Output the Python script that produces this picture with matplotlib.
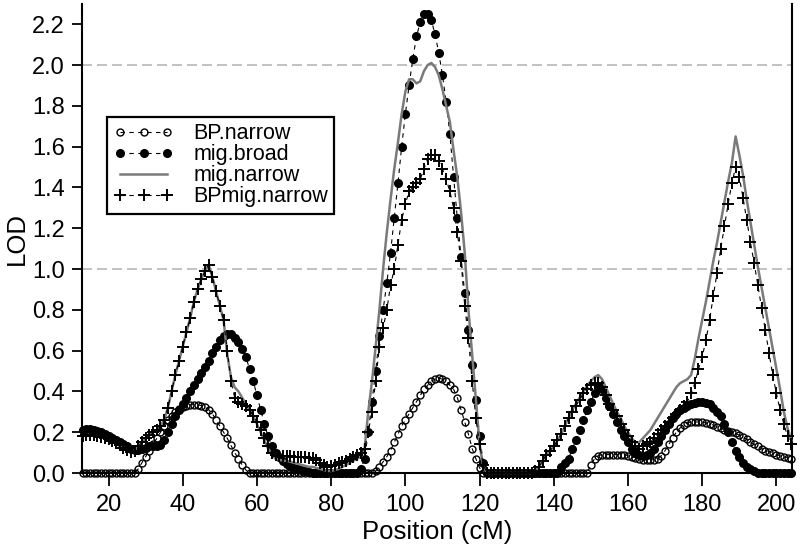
import numpy as np
import matplotlib
matplotlib.use("Agg")
import matplotlib.pyplot as plt

plt.rcParams['font.family'] = ['Liberation Sans', 'DejaVu Sans']

# map positions, 1 cM apart
position = np.arange(13, 205)

# LOD scores, 10 per row starting at 13 cM
bp_narrow = [
    0, 0, 0, 0, 0, 0, 0, 0, 0, 0,
    0, 0, 0, 0, 0, 0.02, 0.05, 0.08, 0.11, 0.14,
    0.17, 0.20, 0.23, 0.26, 0.28, 0.30, 0.315, 0.325, 0.33, 0.335,
    0.335, 0.335, 0.33, 0.325, 0.31, 0.29, 0.26, 0.23, 0.20, 0.17,
    0.135, 0.10, 0.07, 0.04, 0.015, 0, 0, 0, 0, 0,
    0, 0, 0, 0, 0, 0, 0, 0, 0, 0,
    0, 0, 0, 0, 0, 0, 0, 0, 0, 0,
    0, 0, 0, 0, 0, 0, 0, 0, 0, 0.01,
    0.03, 0.055, 0.08, 0.11, 0.15, 0.19, 0.23, 0.26, 0.29, 0.32,
    0.35, 0.38, 0.41, 0.43, 0.45, 0.46, 0.465, 0.46, 0.45, 0.43,
    0.41, 0.37, 0.31, 0.25, 0.19, 0.12, 0.07, 0.025, 0, 0,
    0, 0, 0, 0, 0, 0, 0, 0, 0, 0,
    0, 0, 0, 0, 0, 0, 0, 0, 0, 0,
    0, 0, 0, 0, 0, 0, 0, 0.04, 0.07, 0.085,
    0.09, 0.09, 0.09, 0.09, 0.09, 0.09, 0.09, 0.085, 0.08, 0.075,
    0.07, 0.065, 0.065, 0.065, 0.065, 0.07, 0.085, 0.11, 0.14, 0.17,
    0.20, 0.22, 0.235, 0.245, 0.25, 0.25, 0.25, 0.25, 0.245, 0.24,
    0.235, 0.225, 0.22, 0.21, 0.205, 0.20, 0.195, 0.185, 0.175, 0.165,
    0.15, 0.14, 0.13, 0.12, 0.11, 0.105, 0.10, 0.09, 0.085, 0.08,
    0.075, 0.07,
]

mig_broad = [
    0.21, 0.215, 0.215, 0.21, 0.205, 0.20, 0.19, 0.18, 0.17, 0.16,
    0.15, 0.14, 0.13, 0.12, 0.115, 0.115, 0.12, 0.125, 0.13, 0.13,
    0.13, 0.135, 0.16, 0.20, 0.24, 0.28, 0.31, 0.34, 0.37, 0.40,
    0.43, 0.46, 0.49, 0.52, 0.55, 0.59, 0.62, 0.65, 0.67, 0.68,
    0.68, 0.66, 0.64, 0.61, 0.57, 0.51, 0.45, 0.38, 0.31, 0.24,
    0.18, 0.13, 0.10, 0.08, 0.06, 0.045, 0.035, 0.025, 0.02, 0.015,
    0.01, 0.005, 0, 0, 0, 0, 0, 0, 0, 0,
    0, 0, 0, 0, 0, 0.02, 0.07, 0.20, 0.35, 0.50,
    0.67, 0.80, 0.93, 1.08, 1.25, 1.42, 1.60, 1.76, 1.90, 2.03,
    2.14, 2.21, 2.25, 2.25, 2.22, 2.15, 2.06, 1.95, 1.82, 1.66,
    1.45, 1.25, 1.06, 0.88, 0.70, 0.53, 0.36, 0.18, 0.05, 0,
    0, 0, 0, 0, 0, 0, 0, 0, 0, 0,
    0, 0, 0, 0, 0, 0, 0, 0, 0, 0.03,
    0.05, 0.07, 0.12, 0.16, 0.21, 0.26, 0.31, 0.35, 0.39, 0.42,
    0.41, 0.37, 0.33, 0.29, 0.25, 0.21, 0.18, 0.15, 0.12, 0.10,
    0.09, 0.085, 0.09, 0.10, 0.12, 0.15, 0.18, 0.21, 0.24, 0.27,
    0.29, 0.31, 0.32, 0.33, 0.34, 0.345, 0.35, 0.35, 0.345, 0.34,
    0.32, 0.30, 0.28, 0.24, 0.20, 0.15, 0.11, 0.08, 0.05, 0.03,
    0.02, 0.01, 0, 0, 0, 0, 0, 0, 0, 0,
    0, 0,
]

mig_narrow = [
    0.18, 0.185, 0.185, 0.185, 0.18, 0.175, 0.17, 0.165, 0.155, 0.145,
    0.135, 0.125, 0.115, 0.105, 0.11, 0.13, 0.15, 0.17, 0.185, 0.20,
    0.21, 0.23, 0.26, 0.32, 0.40, 0.48, 0.55, 0.62, 0.69, 0.76,
    0.84, 0.90, 0.95, 0.99, 1.02, 0.96, 0.89, 0.82, 0.75, 0.58,
    0.47, 0.42, 0.40, 0.37, 0.34, 0.31, 0.28, 0.24, 0.20, 0.16,
    0.12, 0.09, 0.07, 0.065, 0.06, 0.06, 0.055, 0.05, 0.045, 0.04,
    0.035, 0.03, 0.03, 0.025, 0.02, 0.015, 0.01, 0.01, 0.015, 0.02,
    0.03, 0.04, 0.05, 0.06, 0.07, 0.08, 0.12, 0.30, 0.45, 0.62,
    0.80, 1.00, 1.18, 1.34, 1.49, 1.62, 1.76, 1.87, 1.93, 1.93,
    1.91, 1.92, 1.97, 2.00, 2.01, 1.99, 1.95, 1.88, 1.80, 1.72,
    1.58, 1.45, 1.28, 1.08, 0.80, 0.58, 0.36, 0.14, 0.03, 0,
    0, 0, 0, 0, 0, 0, 0, 0, 0, 0,
    0, 0, 0.01, 0.03, 0.06, 0.09, 0.11, 0.13, 0.16, 0.19,
    0.23, 0.27, 0.31, 0.34, 0.37, 0.40, 0.43, 0.45, 0.47, 0.48,
    0.46, 0.42, 0.38, 0.34, 0.30, 0.27, 0.23, 0.20, 0.17, 0.15,
    0.15, 0.17, 0.19, 0.21, 0.24, 0.27, 0.30, 0.33, 0.36, 0.39,
    0.42, 0.44, 0.45, 0.46, 0.48, 0.56, 0.66, 0.75, 0.84, 0.94,
    1.04, 1.13, 1.23, 1.33, 1.43, 1.52, 1.65, 1.56, 1.46, 1.34,
    1.23, 1.12, 1.01, 0.91, 0.81, 0.71, 0.61, 0.51, 0.41, 0.30,
    0.22, 0.16,
]

bpmig_narrow = [
    0.18, 0.185, 0.185, 0.185, 0.18, 0.175, 0.17, 0.165, 0.155, 0.145,
    0.135, 0.125, 0.115, 0.105, 0.11, 0.13, 0.15, 0.17, 0.185, 0.20,
    0.21, 0.23, 0.26, 0.32, 0.40, 0.48, 0.55, 0.62, 0.69, 0.76,
    0.84, 0.90, 0.95, 0.99, 1.02, 0.96, 0.89, 0.82, 0.75, 0.60,
    0.45, 0.37, 0.35, 0.34, 0.33, 0.31, 0.28, 0.25, 0.21, 0.17,
    0.13, 0.10, 0.09, 0.085, 0.085, 0.085, 0.085, 0.08, 0.08, 0.08,
    0.08, 0.075, 0.075, 0.065, 0.05, 0.04, 0.03, 0.035, 0.04, 0.05,
    0.055, 0.06, 0.07, 0.08, 0.09, 0.10, 0.12, 0.20, 0.30, 0.45,
    0.62, 0.71, 0.80, 0.92, 1.00, 1.12, 1.24, 1.32, 1.38, 1.40,
    1.42, 1.44, 1.49, 1.54, 1.56, 1.56, 1.53, 1.49, 1.44, 1.38,
    1.30, 1.18, 1.04, 0.82, 0.66, 0.45, 0.27, 0.14, 0.04, 0,
    0, 0, 0, 0, 0, 0, 0, 0, 0, 0,
    0, 0, 0.01, 0.03, 0.06, 0.09, 0.11, 0.13, 0.16, 0.19,
    0.23, 0.27, 0.30, 0.33, 0.36, 0.39, 0.41, 0.43, 0.44, 0.44,
    0.42, 0.38, 0.34, 0.31, 0.28, 0.24, 0.21, 0.18, 0.15, 0.13,
    0.12, 0.13, 0.14, 0.15, 0.17, 0.19, 0.21, 0.23, 0.25, 0.27,
    0.29, 0.31, 0.33, 0.35, 0.39, 0.44, 0.51, 0.57, 0.65, 0.75,
    0.87, 0.98, 1.10, 1.21, 1.32, 1.42, 1.50, 1.45, 1.35, 1.24,
    1.13, 1.03, 0.92, 0.81, 0.70, 0.59, 0.48, 0.39, 0.31, 0.24,
    0.18, 0.14,
]

series_names = ["BP.narrow", "mig.broad", "mig.narrow", "BPmig.narrow"]
x_ticks = [20, 40, 60, 80, 100, 120, 140, 160, 180, 200]
y_ticks = [0.0, 0.2, 0.4, 0.6, 0.8, 1.0, 1.2, 1.4, 1.6, 1.8, 2.0, 2.2]
threshold_lines = [1.0, 2.0]

for s in (bp_narrow, mig_broad, mig_narrow, bpmig_narrow):
    assert len(s) == len(position), len(s)

fig = plt.figure(figsize=(8, 5.54), dpi=100)
ax = fig.add_axes([0.1025, 0.1462, 0.8875, 0.8469])

for level in threshold_lines:
    ax.axhline(level, color="#b8b8b8", lw=1.2, dashes=(6, 3), zorder=1)

dash = (0, (4, 4))
ax.plot(position, bp_narrow, color="black", lw=0.8, ls=dash, marker="o", ms=5,
        mfc="none", mec="black", mew=1.0, label=series_names[0], clip_on=False, zorder=3)
ax.plot(position, mig_broad, color="black", lw=0.8, ls=dash, marker="o", ms=5.5,
        mfc="black", mec="black", label=series_names[1], clip_on=False, zorder=3)
ax.plot(position, mig_narrow, color="#7a7a7a", lw=1.8, label=series_names[2],
        clip_on=False, zorder=3)
ax.plot(position, bpmig_narrow, color="black", lw=0.8, ls=dash, marker="+", ms=8.5,
        mew=1.4, label=series_names[3], clip_on=False, zorder=3)

ax.set_xlim(12.85, 204.2)
ax.set_ylim(0, 2.3)
ax.set_xticks(x_ticks)
ax.set_yticks(y_ticks)
ax.set_yticklabels(["%.1f" % v for v in y_ticks])

ax.spines["top"].set_visible(False)
for side in ("left", "right", "bottom"):
    ax.spines[side].set_linewidth(1.5)
ax.tick_params(direction="out", length=7.5, width=1.3, pad=5, labelsize=17)
ax.tick_params(axis="x", length=9, pad=6)

ax.set_xlabel("Position (cM)", fontsize=18.5, labelpad=3)
ax.set_ylabel("LOD", fontsize=18.5, labelpad=2)

leg = ax.legend(loc="upper left", bbox_to_anchor=(107 / 800, 1 - 117 / 554),
                bbox_transform=fig.transFigure, fontsize=15.5, frameon=True,
                fancybox=False, edgecolor="black", framealpha=1, borderpad=0.3,
                labelspacing=0.0, handlelength=2.8, handletextpad=0.9,
                borderaxespad=0, numpoints=3)
leg.get_frame().set_linewidth(1.6)

fig.savefig("out.png", dpi=100)
